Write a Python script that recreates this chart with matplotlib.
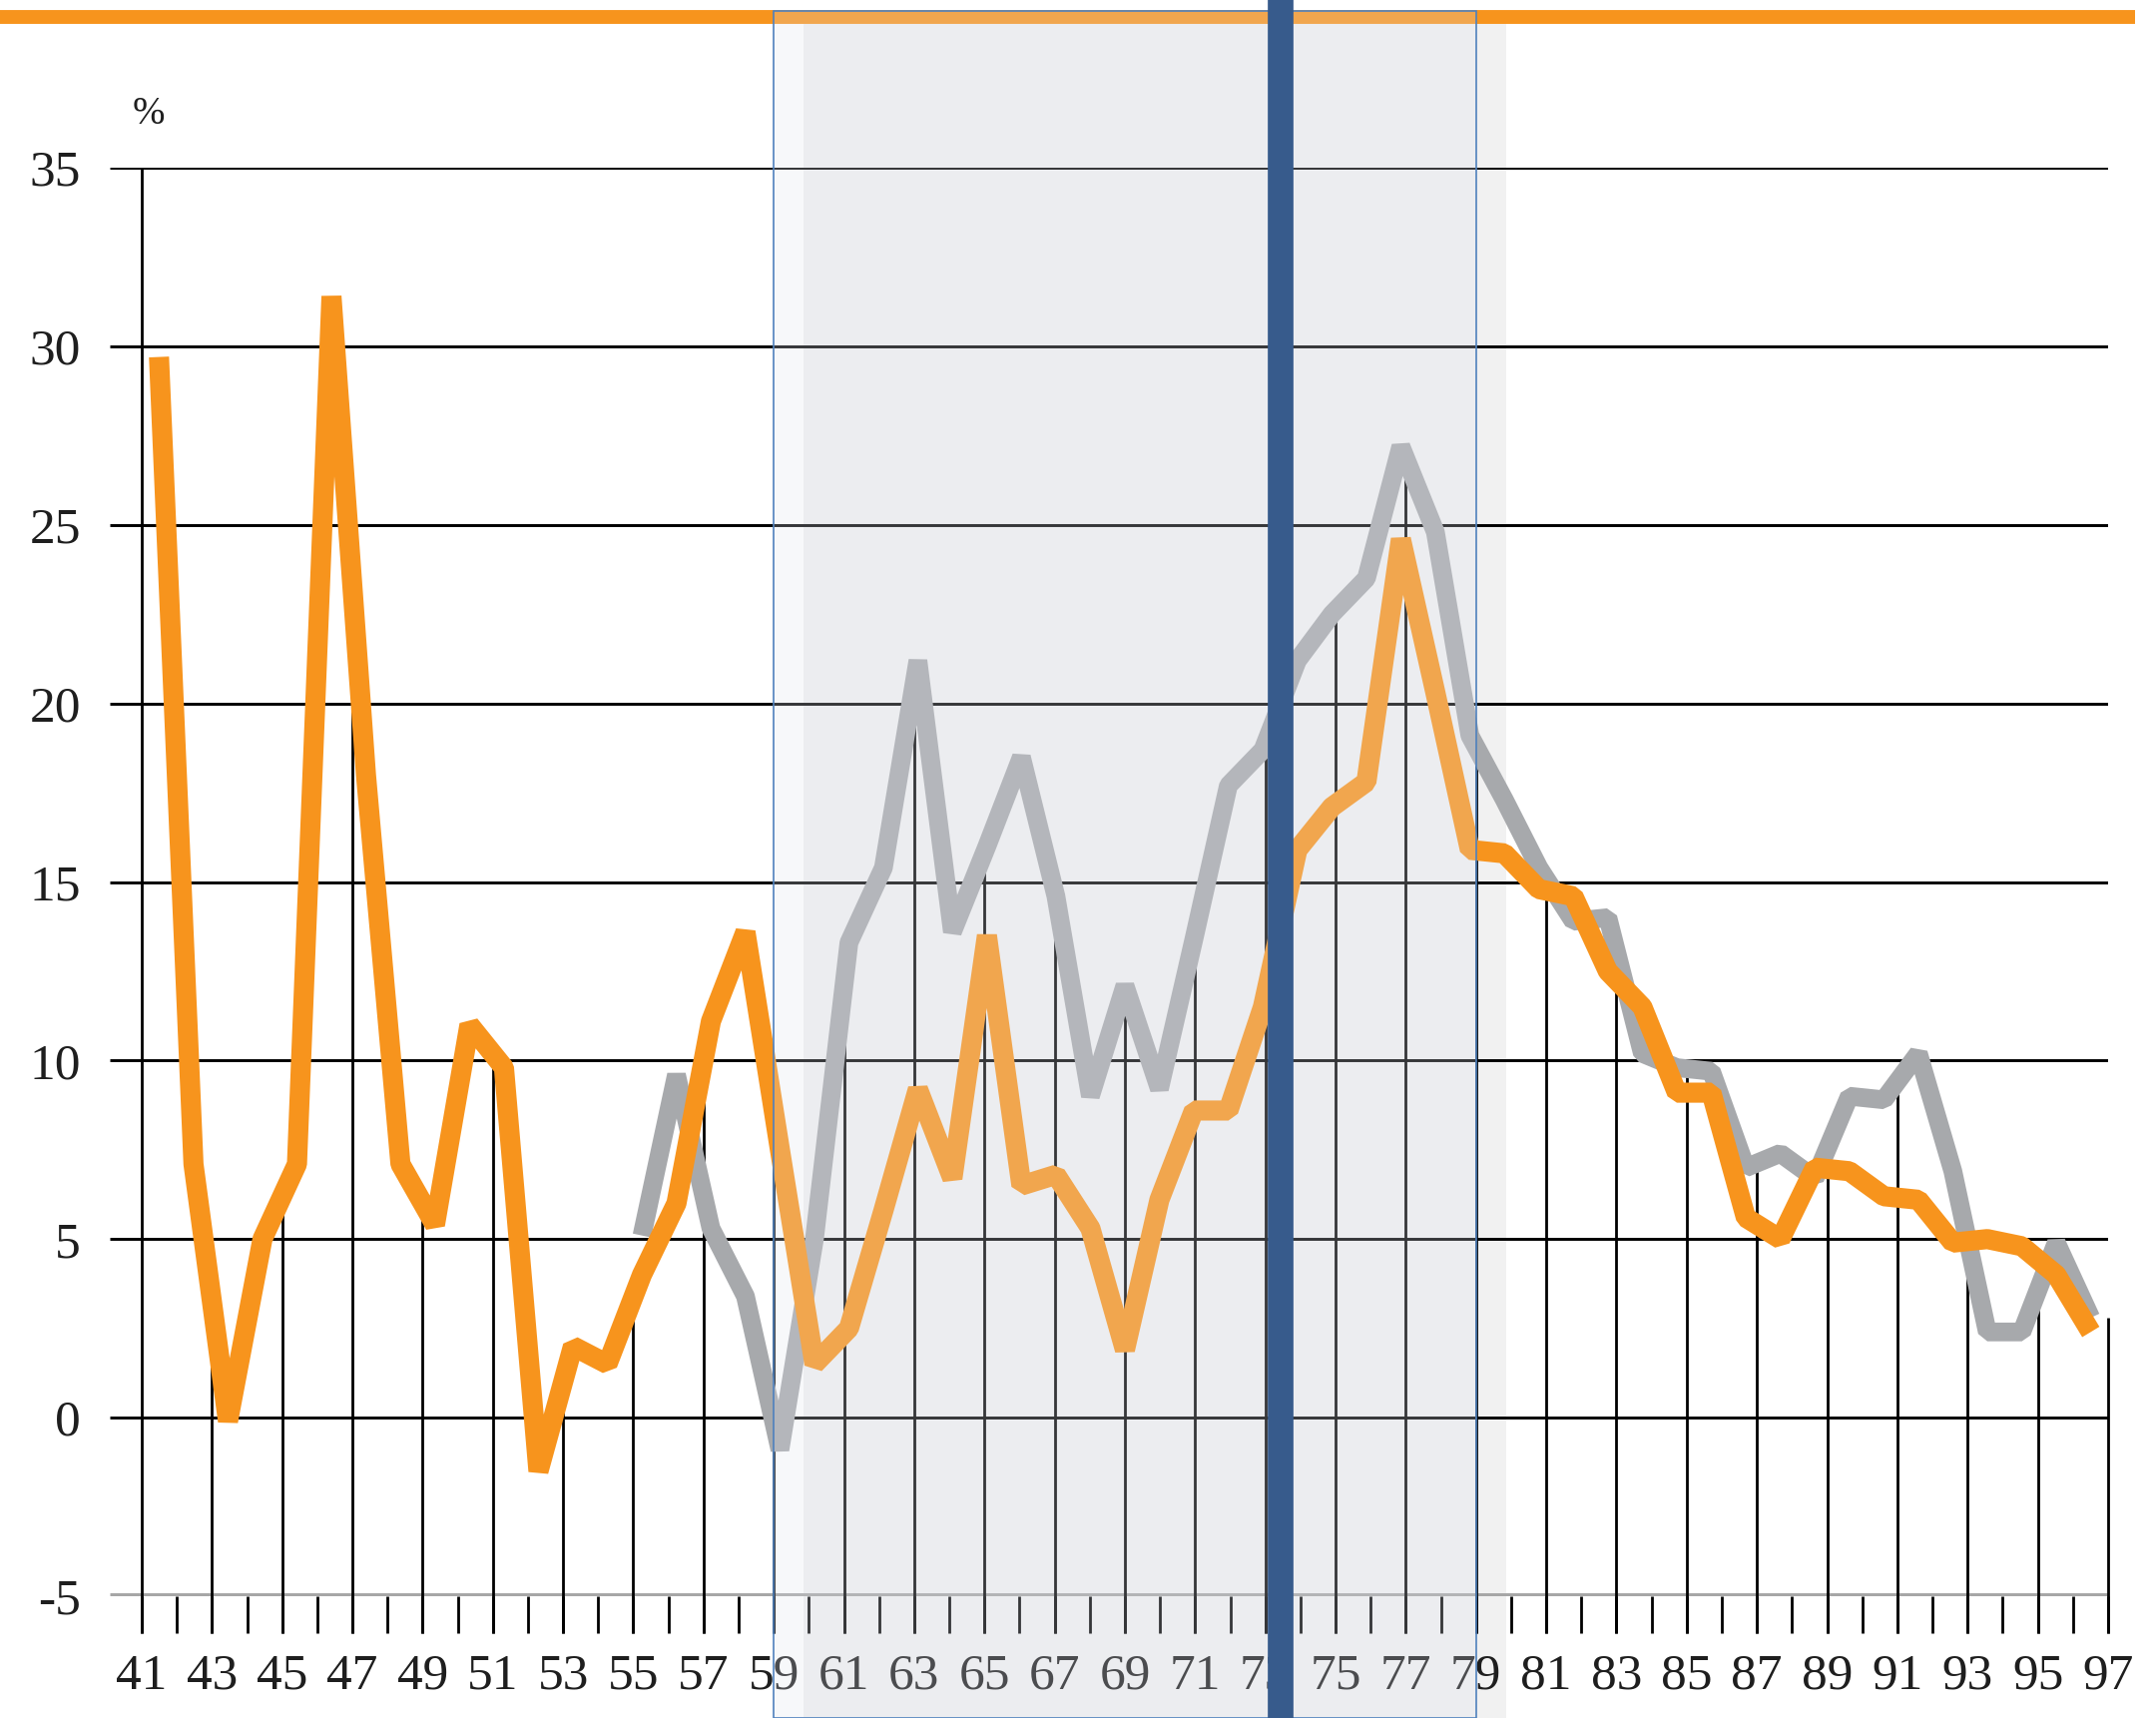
"""
Annual rate (%) of two series, 1941-1997, with a shaded period (1959-1979)
and a marker bar at the start of 1974.
"""

import numpy as np
import matplotlib
matplotlib.use('Agg')
import matplotlib.pyplot as plt
from matplotlib import transforms
from matplotlib.patches import Rectangle

# Axis years (ticks run from 41 to 97)
firstYear = 1941
lastYear = 1997
years = list(range(1941, 1998))

# Orange series, 1941-1997 (%)
orangeValues = [29.7, 7.1, -0.1, 5.0, 7.1, 31.4, 18.0, 7.1, 5.4, 11.0,
                9.8, -1.5, 2.0, 1.5, 4.0, 6.0, 11.1, 13.6, 7.5, 1.5,
                2.5, 5.8, 9.2, 6.7, 13.5, 6.5, 6.8, 5.3, 1.9, 6.1,
                8.6, 8.6, 11.5, 15.9, 17.1, 17.8, 24.6, 20.3, 15.9, 15.8,
                14.8, 14.6, 12.5, 11.5, 9.1, 9.1, 5.6, 5.0, 7.0, 6.9,
                6.2, 6.1, 4.9, 5.0, 4.8, 4.0, 2.4]

# Grey series, 1955-1997 (%)
greyYears = list(range(1955, 1998))
greyValues = [5.1, 9.6, 5.3, 3.4, -0.9, 5.0, 13.3, 15.4, 21.2, 13.6,
              16.0, 18.5, 14.6, 9.0, 12.1, 9.2, 13.4, 17.7, 18.7, 21.2,
              22.5, 23.5, 27.2, 24.8, 19.1, 17.3, 15.4, 13.9, 14.0, 10.2,
              9.8, 9.7, 7.0, 7.4, 6.7, 9.0, 8.9, 10.2, 6.9, 2.4,
              2.4, 4.9, 2.8]

# Y axis ticks
yTicks = [-5, 0, 5, 10, 15, 20, 25, 30, 35]
yTickLabels = ['-5', '0', '5', '10', '15', '20', '25', '30', '35']

# X labels on every second year
labelYears = list(range(1941, 1998, 2))
xTickLabels = [str(y % 100) for y in labelYears]

# Shaded period and marker year
shadeStart = 1959
shadeEnd = 1979
markerYear = 1974

# Colours
orange = '#F7941D'
grey = '#A7A9AC'
darkBlue = '#375B8C'
boxEdge = '#4F81BD'
textColor = '#1e1e1e'
serif = ['Liberation Serif', 'DejaVu Serif']

# The 57 yearly points sit in the middle of equal slots between the 41 and 97 ticks
slot = (lastYear - firstYear) / len(years)


def slotCentre(year):
    return firstYear + (year - firstYear + 0.5) * slot


def slotEdge(year):
    return firstYear + (year - firstYear) * slot


orangeX = np.array([slotCentre(y) for y in years])
greyX = np.array([slotCentre(y) for y in greyYears])

fig = plt.figure(figsize=(21.6, 17.21), dpi=100)
W, H = 2160, 1721
pxPerYear = 35.18
xLeft = firstYear - 32 / pxPerYear
ax = fig.add_axes([110 / W, (H - 1599) / H, (2112 - 110) / W, (1599 - 168) / H])
ax.set_xlim(xLeft, lastYear)
ax.set_ylim(-5, 35)
for s in ax.spines.values():
    s.set_visible(False)
ax.set_xticks([])

# y labels
ax.set_yticks(yTicks)
ax.set_yticklabels(yTickLabels, family=serif, fontsize=37, color=textColor)
ax.tick_params(axis='y', length=0, pad=21)

blend = transforms.blended_transform_factory(ax.transData, fig.transFigure)

# Drop shadow behind the shaded period
shadowOffset = 30 / pxPerYear
boxTop = 1 - 11 / H
ax.add_patch(Rectangle((shadeStart + shadowOffset, 0), shadeEnd - shadeStart, boxTop,
                       transform=blend, facecolor='#F1F1F1', edgecolor='none',
                       zorder=0.5, clip_on=False))

# Horizontal gridlines
ax.hlines(yTicks[1:], xLeft, lastYear, color='black', linewidth=2.1, zorder=1)
# Bottom axis line
ax.hlines(-5, xLeft, lastYear, color='#A6A6A6', linewidth=5, zorder=1)

# Year ticks below the axis
tickLow = -6.03
ax.vlines(years, tickLow, -5, color='black', linewidth=2.0, zorder=1.5, clip_on=False)

# Drop lines on labelled years, up to the higher of the two lines
tops = []
for y in labelYears:
    top = np.interp(y, orangeX, orangeValues)
    if greyX[0] <= y:
        top = max(top, np.interp(y, greyX, greyValues))
    tops.append(top)
tops[0] = 35
ax.vlines(labelYears, tickLow, tops, color='black', linewidth=2.0, zorder=1.5, clip_on=False)

# The two series
ax.plot(greyX, greyValues, color=grey, linewidth=13.5, zorder=3,
        solid_joinstyle='bevel', solid_capstyle='butt')
ax.plot(orangeX, orangeValues, color=orange, linewidth=14.5, zorder=4,
        solid_joinstyle='bevel', solid_capstyle='butt')

# x labels
for y, lab in zip(labelYears, xTickLabels):
    ax.text(y, -7.25, lab, ha='center', va='center', fontsize=37,
            family=serif, color=textColor, zorder=3, clip_on=False)

# % unit
ax.text(149 / W, 1 - 114 / H, '%', transform=fig.transFigure, ha='center',
        va='center', fontsize=28, family=serif, color=textColor)

# Orange rule at the top of the figure
ax.plot([0, 2139 / W], [1 - 17 / H, 1 - 17 / H], transform=fig.transFigure,
        color=orange, linewidth=10, solid_capstyle='butt', zorder=4, clip_on=False)

# Shaded period box (translucent, over the lines)
ax.add_patch(Rectangle((shadeStart, 0), shadeEnd - shadeStart, boxTop,
                       transform=blend, facecolor=(222 / 255, 226 / 255, 237 / 255, 0.24),
                       edgecolor=boxEdge, linewidth=1.2, zorder=5, clip_on=False))

# Marker bar
markerX = slotEdge(markerYear)
ax.plot([markerX, markerX], [0, 1], transform=blend, color=darkBlue,
        linewidth=18.5, solid_capstyle='butt', zorder=6, clip_on=False)

fig.savefig('out.png', dpi=100)
